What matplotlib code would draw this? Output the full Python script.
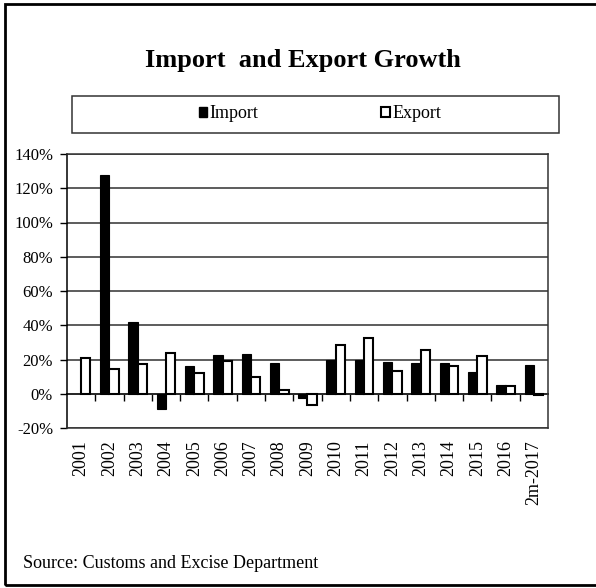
import numpy as np
import matplotlib
matplotlib.use("Agg")
import matplotlib.pyplot as plt
from matplotlib.patches import Rectangle, Patch

plt.rcParams["font.family"] = ["Liberation Serif", "DejaVu Serif"]

# datos (%)
anios = ["2001", "2002", "2003", "2004", "2005", "2006", "2007", "2008", "2009",
         "2010", "2011", "2012", "2013", "2014", "2015", "2016", "2m-2017"]
importaciones = [np.nan, 128.0, 41.8, -9.1, 16.3, 22.4, 23.1, 17.9, -2.3,
                 20.0, 20.0, 18.7, 18.1, 17.9, 12.6, 5.1, 16.5]
exportaciones = [20.6, 14.6, 17.5, 23.7, 12.4, 19.1, 9.5, 2.1, -6.6,
                 28.6, 32.5, 13.2, 25.7, 16.1, 21.8, 4.3, -1.0]
y_ticks = [-20, 0, 20, 40, 60, 80, 100, 120, 140]

W, H = 596, 588
fig = plt.figure(figsize=(W / 100, H / 100), dpi=100)

# marco exterior (sin borde derecho visible)
fig.patches.append(Rectangle((5 / W, 1 - 585 / H), 600 / W, 581 / H,
                             transform=fig.transFigure, fill=False,
                             edgecolor="black", lw=2))

ax = fig.add_axes([67 / W, 1 - 428 / H, 481 / W, 274 / H])

x = np.arange(len(anios))
ancho = 0.33
ax.bar(x - ancho / 2, importaciones, ancho, color="black", edgecolor="black",
       lw=0.8, zorder=3)
ax.bar(x + ancho / 2, exportaciones, ancho, color="white", edgecolor="black",
       lw=1.5, zorder=3)

ax.set_xlim(-0.5, len(anios) - 0.5)
ax.set_ylim(-20, 140)
ax.set_yticks(y_ticks)
ax.set_yticklabels([f"{v}%" for v in y_ticks], fontsize=12)
ax.yaxis.grid(True, color="#303030", lw=1.1, zorder=1)
ax.tick_params(axis="y", direction="out", length=5, width=1, pad=5)

ax.set_xticks(x)
ax.set_xticklabels(anios, rotation=90, fontsize=13)
ax.tick_params(axis="x", length=0, pad=9)

for s in ax.spines.values():
    s.set_color("#333333")
    s.set_linewidth(1.1)
ax.spines["left"].set_color("black")

# linea del cero con marcas entre categorias
eje0 = ax.secondary_xaxis(20 / 160)
eje0.set_xticks(np.arange(len(anios) - 1) + 0.5)
eje0.set_xticklabels([])
eje0.tick_params(direction="out", length=5, width=1, color="black")
eje0.spines["bottom"].set_color("black")
eje0.spines["bottom"].set_linewidth(1.3)

# titulo
fig.text(303 / W, 1 - 60 / H, "Import  and Export Growth", ha="center",
         va="center", fontsize=19, fontweight="bold")

# leyenda con caja
fig.patches.append(Rectangle((72 / W, 1 - 133 / H), 487 / W, 37 / H,
                             transform=fig.transFigure, fill=False,
                             edgecolor="#333333", lw=1.1))
manejadores = [Patch(facecolor="black", edgecolor="black", label="Import"),
               Patch(facecolor="white", edgecolor="black", lw=1.5, label="Export")]
fig.legend(handles=manejadores, loc="center", bbox_to_anchor=(320 / W, 1 - 114 / H),
           ncol=2, frameon=False, fontsize=13, handlelength=0.45,
           handleheight=0.45, handletextpad=0.15, columnspacing=6.8)

fig.text(23 / W, 1 - 563 / H, "Source: Customs and Excise Department",
         ha="left", va="center", fontsize=13)

fig.savefig("out.png", dpi=100)
